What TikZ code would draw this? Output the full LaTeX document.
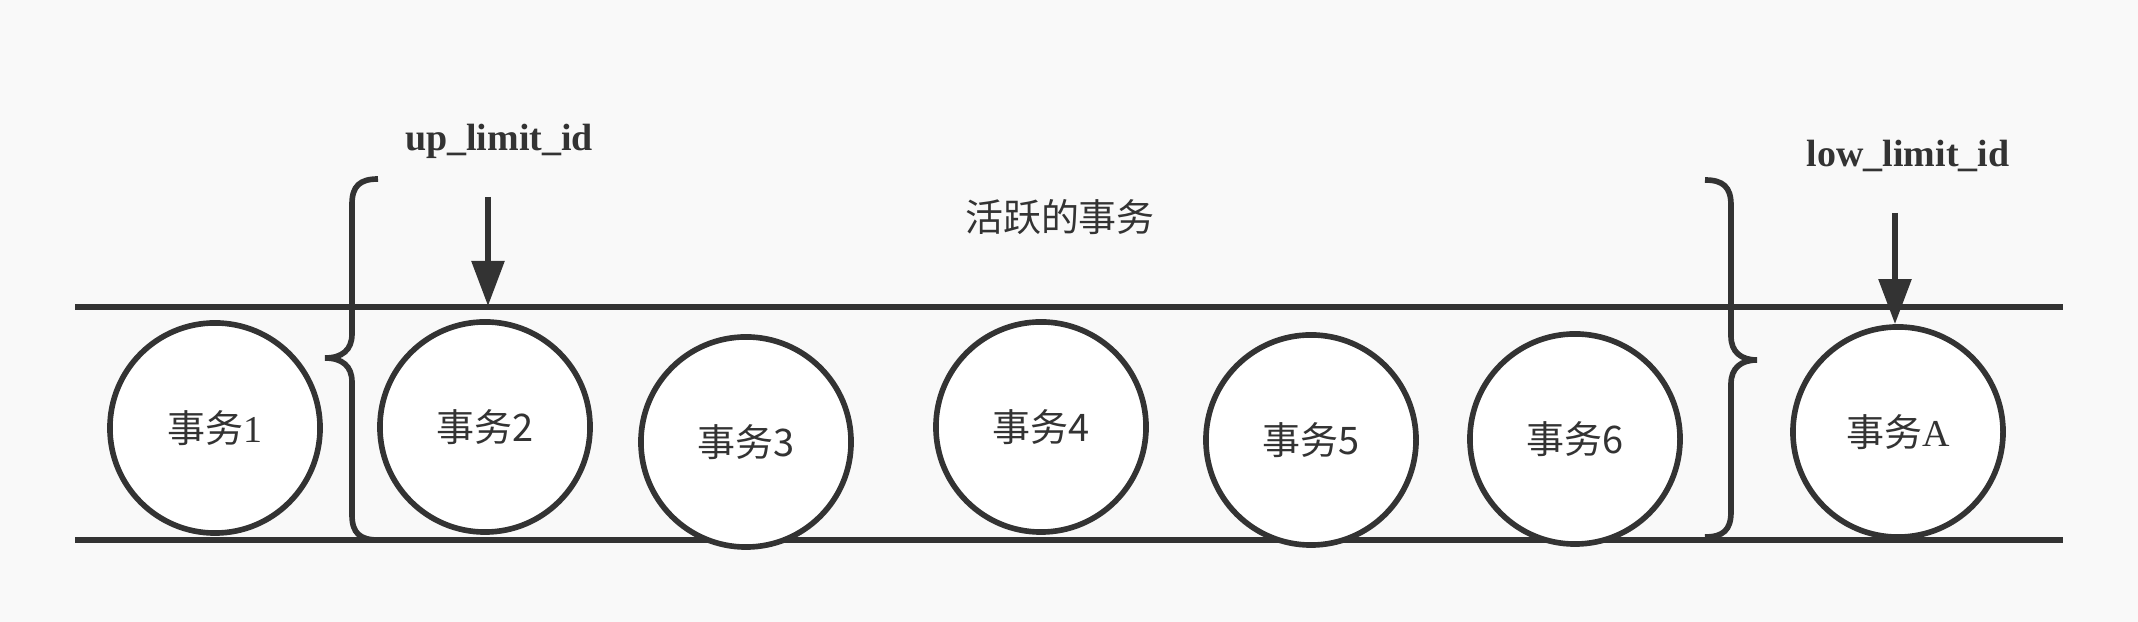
\documentclass[tikz,border=0pt]{standalone}
\usepackage{fontspec}
\usepackage{tikz}
\usepackage{xcolor}
\usetikzlibrary{arrows.meta}
\setmainfont{Liberation Serif}
\newfontfamily\cjk{Noto Sans CJK SC}
\definecolor{ink}{HTML}{333333}
\definecolor{paper}{HTML}{F9F9F9}

\begin{document}
\begin{tikzpicture}[
          x=0.01cm, y=-0.01cm,
          every node/.style={font=\fontsize{10.8pt}{13pt}\selectfont, text=ink},
          txn/.style={draw=ink, circle, fill=white, line width=1.6pt, minimum size=2.1cm, inner sep=0pt},
          rail/.style={draw=ink, line width=1.6pt},
          pointer/.style={draw=ink, line width=1.6pt, -{Triangle[length=0.45cm, width=0.32cm]}},
          idlabel/.style={font=\fontsize{10.8pt}{13pt}\selectfont\bfseries}
      ]
        \fill[paper] (0,0) rectangle (2138,622);
        \useasboundingbox (0,0) rectangle (2138,622);

        % the two rails
        \coordinate (railTL) at (75,307);
        \coordinate (railTR) at (2063,307);
        \coordinate (railBL) at (75,540);
        \coordinate (railBR) at (2063,540);
        \draw[rail] (railTL) -- (railTR);
        \draw[rail] (railBL) -- (railBR);

        % transactions
        \node[txn] (t1) at (215,428) {{\cjk 事务}1\hspace{0.12cm}};
        \node[txn] (t2) at (485,427) {\cjk 事务2\hspace{0.1cm}};
        \node[txn] (t3) at (746,442) {\cjk 事务3\hspace{0.1cm}};
        \node[txn] (t4) at (1041,427) {\cjk 事务4\hspace{0.1cm}};
        \node[txn] (t5) at (1311,440) {\cjk 事务5\hspace{0.1cm}};
        \node[txn] (t6) at (1575,439) {\cjk 事务6\hspace{0.1cm}};
        \node[txn] (tA) at (1898,432) {{\cjk 事务}A\hspace{0.1cm}};

        \node (active) at (1060,217) {\cjk 活跃的事务};

        % limit pointers
        \node[idlabel] (uplim) at (499,141) {up\_limit\_id};
        \node[idlabel] (lowlim) at (1908,156) {low\_limit\_id};
        \coordinate (upStart) at (488,197);
        \coordinate (upEnd) at (488,306);
        \coordinate (lowStart) at (1895,213);
        \draw[pointer] (upStart) -- (upEnd);
        \draw[pointer] (lowStart) -- (lowStart |- tA.north);

        % braces round the active ones
        \draw[ink, line width=1.6pt] (378,179) .. controls (360,179) and (352,186) .. (352,204)
          -- (352,334) .. controls (352,350) and (342,358) .. (325,358)
          .. controls (342,358) and (352,366) .. (352,382)
          -- (352,515) .. controls (352,533) and (360,540) .. (378,540);
        \draw[ink, line width=1.6pt] (1705,180) .. controls (1723,180) and (1731,187) .. (1731,205)
          -- (1731,336) .. controls (1731,352) and (1741,360) .. (1757,360)
          .. controls (1741,360) and (1731,368) .. (1731,384)
          -- (1731,512) .. controls (1731,530) and (1723,537) .. (1705,537);
      \end{tikzpicture}
\end{document}
